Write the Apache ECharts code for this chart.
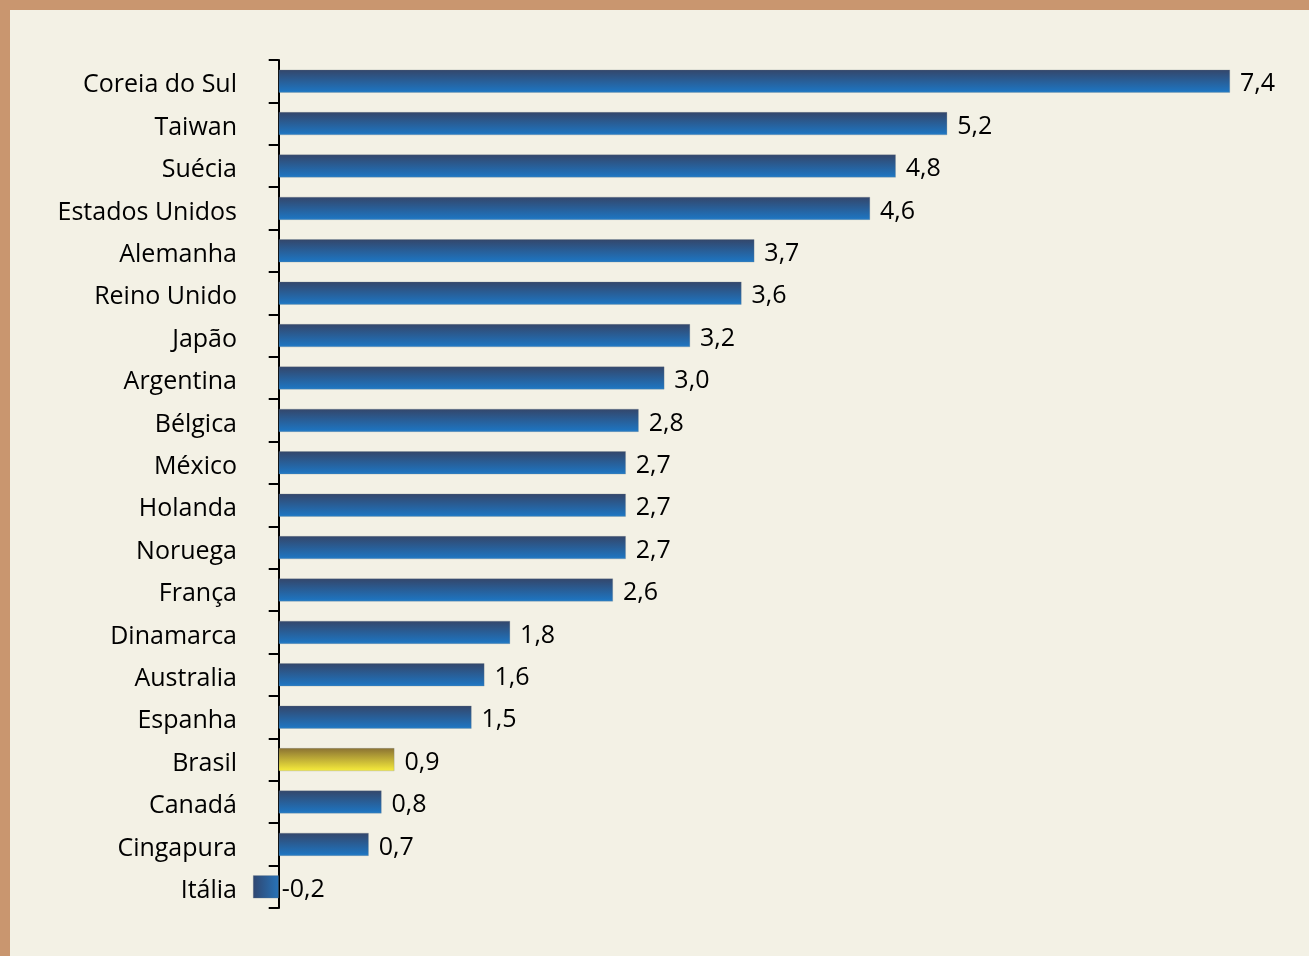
<!DOCTYPE html>
<html>
<head>
<meta charset="utf-8">
<script src="https://cdn.jsdelivr.net/npm/echarts@6/dist/echarts.min.js"></script>
<style>
  html, body { margin: 0; padding: 0; width: 1309px; height: 956px; background: #C9966F; overflow: hidden; }
  #chart { position: absolute; left: 10px; top: 10px; width: 1299px; height: 946px; background: #F3F1E5; }
</style>
</head>
<body>
<div id="chart"></div>
<script>
// Countries, top to bottom
const countries = [
  'Coreia do Sul', 'Taiwan', 'Suécia', 'Estados Unidos', 'Alemanha',
  'Reino Unido', 'Japão', 'Argentina', 'Bélgica', 'México',
  'Holanda', 'Noruega', 'França', 'Dinamarca', 'Australia',
  'Espanha', 'Brasil', 'Canadá', 'Cingapura', 'Itália'
];
// Values per country
const values = [7.4, 5.2, 4.8, 4.6, 3.7, 3.6, 3.2, 3.0, 2.8, 2.7, 2.7, 2.7, 2.6, 1.8, 1.6, 1.5, 0.9, 0.8, 0.7, -0.2];
// Country drawn in the highlight colour
const highlight = 'Brasil';

const FONT = '"Open Sans", "DejaVu Sans", sans-serif';

const blueGrad = new echarts.graphic.LinearGradient(0, 0, 0, 1, [
  { offset: 0, color: '#34466A' },
  { offset: 0.9, color: '#1F72BC' },
  { offset: 1, color: '#2A80C8' }
]);
const blueGradNeg = new echarts.graphic.LinearGradient(0, 0, 1, 0, [
  { offset: 0, color: '#2F4670' },
  { offset: 1, color: '#2873B8' }
]);
const goldGrad = new echarts.graphic.LinearGradient(0, 0, 0, 1, [
  { offset: 0, color: '#8A7233' },
  { offset: 0.9, color: '#EDE13A' },
  { offset: 1, color: '#F4EA40' }
]);

const barData = values.map((v, i) => {
  const isHi = countries[i] === highlight;
  return {
    value: v,
    itemStyle: { color: isHi ? goldGrad : (v < 0 ? blueGradNeg : blueGrad) },
    label: { distance: v < 0 ? 3 : 10 }
  };
});

const chart = echarts.init(document.getElementById('chart'), null, { renderer: 'canvas' });
chart.setOption({
  backgroundColor: '#F3F1E5',
  animation: false,
  grid: { left: 243, top: 50, width: 977, height: 848, containLabel: false },
  xAxis: {
    type: 'value',
    min: -0.2,
    max: 7.4,
    show: false
  },
  yAxis: {
    type: 'category',
    data: countries,
    inverse: true,
    axisLine: { show: true, onZero: true, lineStyle: { color: '#000', width: 2 } },
    axisTick: { show: true, length: 10, lineStyle: { color: '#000', width: 2 } },
    axisLabel: {
      margin: 16,
      color: '#000',
      fontFamily: FONT,
      fontSize: 25,
      formatter: v => '{n|' + v + '}',
      rich: {
        n: { fontFamily: FONT, fontSize: 25, color: '#000', padding: [8, 0, 0, 0] }
      }
    },
    splitLine: { show: false }
  },
  series: [{
    type: 'bar',
    data: barData,
    barWidth: 23,
    itemStyle: { borderColor: 'rgba(120,130,140,0.5)', borderWidth: 0.5 },
    label: {
      show: true,
      position: 'right',
      color: '#000',
      fontFamily: FONT,
      fontSize: 25,
      offset: [0, 3],
      formatter: p => p.value.toFixed(1).replace('.', ',')
    }
  }]
});
</script>
</body>
</html>
